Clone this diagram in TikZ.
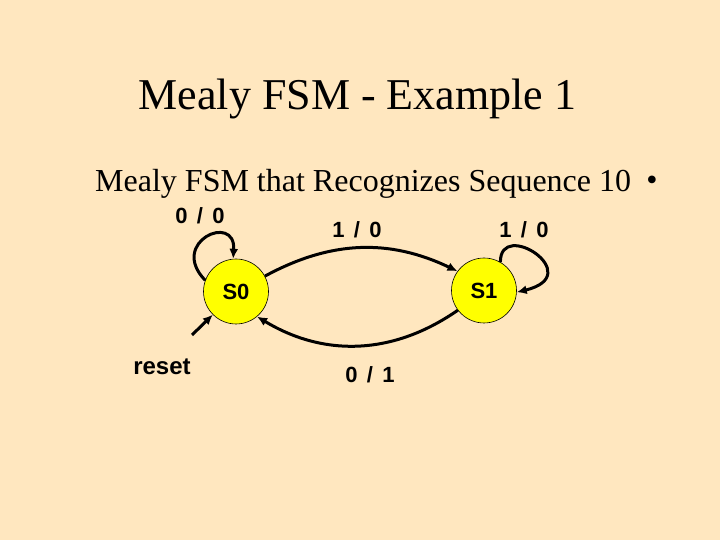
\documentclass[tikz,border=0pt]{standalone}
\usepackage{fontspec}
\setmainfont{Liberation Serif}
\newfontfamily\arialfont{Liberation Sans}
\usepackage{tikz}
\usetikzlibrary{positioning, arrows.meta}
\definecolor{slidebg}{RGB}{255,231,191}
\definecolor{stateyellow}{RGB}{255,255,0}
\tikzset{
  fsmstate/.style = {circle, draw=black, line width=0.6pt, fill=stateyellow,
                     minimum size=65pt, inner sep=0pt,
                     font=\arialfont\bfseries\fontsize{22}{26}\selectfont},
  fsmlabel/.style = {font=\arialfont\bfseries\fontsize{22}{26}\selectfont, inner sep=0pt},
  fsmarrow/.style = {-{Latex[length=10pt, width=9pt]}, line width=3pt, draw=black}
}
\newcommand{\io}[2]{#1\hspace{0.42em}/\hspace{0.42em}#2}

\begin{document}
\begin{tikzpicture}[x=1pt, y=1pt]
\fill[slidebg] (0,0) rectangle (720,540);
\useasboundingbox (0,0) rectangle (720,540);

% titles
\node[anchor=base, inner sep=0pt, font=\fontsize{44}{50}\selectfont] (title) at (357.5,430) {Mealy FSM - Example 1};
\node[anchor=base west, inner sep=0pt, font=\fontsize{32}{38}\selectfont] (subtitle) at (95,348) {Mealy FSM that Recognizes Sequence 10};
\node[inner sep=0pt, font=\fontsize{32}{38}\selectfont] (bullet) at (652,357) {\textbullet};

% states
\node[fsmstate] (s0) at (236,248.5) {S0};
\node[fsmstate] (s1) at (484,249.5) {S1};

% labels
\node[fsmlabel] (l00) at (200,324) {\io{0}{0}};
\node[fsmlabel] (l10a) at (357,310) {\io{1}{0}};
\node[fsmlabel] (l10b) at (524,310) {\io{1}{0}};
\node[fsmlabel] (l01) at (370,165.5) {\io{0}{1}};
\node[fsmlabel, font=\arialfont\bfseries\fontsize{24}{28}\selectfont] (reset) at (162,173) {reset};
\coordinate (rst) at (192,205);

% transitions
\draw[fsmarrow] (s0.160) .. controls (168,298) and (236,328) .. (s0.95);
\draw[fsmarrow] (s1.60) .. controls (500,322) and (588,265) .. (s1.-3);
\draw[fsmarrow] (s0.28) to[bend left=27] (s1.144);
\draw[fsmarrow] (s1.217) to[bend left=33] (s0.310);
\draw[fsmarrow] (rst) -- (s0.225);
\end{tikzpicture}
\end{document}
